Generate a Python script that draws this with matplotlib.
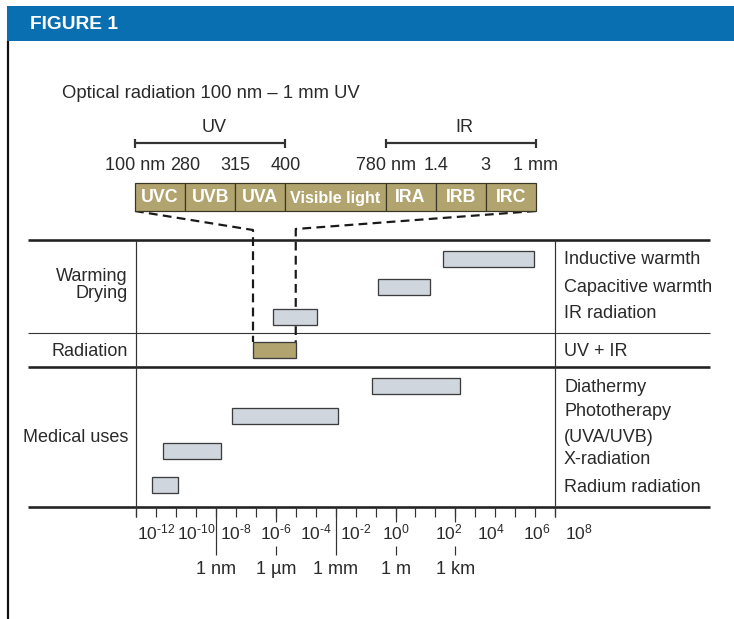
import matplotlib
matplotlib.use("Agg")
import matplotlib.pyplot as plt
from matplotlib.patches import Rectangle

W, H = 734, 619

# optical radiation band (equal-width schematic cells)
band_names = ["UVC", "UVB", "UVA", "Visible light", "IRA", "IRB", "IRC"]
band_widths = [1, 1, 1, 2, 1, 1, 1]
edge_labels = ["100 nm", "280", "315", "400", "780 nm", "1.4", "3", "1 mm"]

# application wavelength ranges in metres
use_lo = [240, 0.13, 7.2e-7, 7.2e-8, 0.066, 6.3e-9, 2.2e-12, 6.3e-13]
use_hi = [8.7e6, 54, 1.2e-4, 1.0e-5, 1.7e3, 1.3e-3, 1.8e-9, 1.26e-11]
use_radiation = [False, False, False, True, False, False, False, False]

right_labels = ["Inductive warmth", "Capacitive warmth", "IR radiation", "UV + IR",
                "Diathermy", "Phototherapy", "(UVA/UVB)", "X-radiation",
                "Radium radiation"]
group_labels = ["Warming\nDrying", "Radiation", "Medical uses"]

decades = list(range(-13, 9))
exp_labels = list(range(-12, 9, 2))
unit_vals = [1e-9, 1e-6, 1e-3, 1.0, 1e3]
unit_labels = ["1 nm", "1 µm", "1 mm", "1 m", "1 km"]

# ---- layout (pixels) ----
bar_rows = [259, 287, 317, 350, 386, 416, 451, 485]
right_rows = [260, 287, 314, 351, 388, 412, 438, 460, 487]
group_rows = [285, 351, 437]
exp_shift = [0, 0, 0, 0, 0, 0, 0, 13, 16, 22, 24]  # label drift in the original
unit_tick_gap = [False, True, False, True, True]  # long ticks broken by a label

plt.rcParams["font.family"] = ["Liberation Sans", "DejaVu Sans"]
plt.rcParams["mathtext.fontset"] = "custom"
plt.rcParams["mathtext.rm"] = "Liberation Sans"
plt.rcParams["mathtext.it"] = "Liberation Sans"

INK = "#2a2a2a"
TAN = "#b1a46f"
BLUE = "#0a6fb1"
BAR = "#cfd6dd"
PX = 0.72  # points per pixel at 100 dpi

fig = plt.figure(figsize=(W / 100, H / 100), dpi=100)

# pixel overlay for free text and rules
axp = fig.add_axes([0, 0, 1, 1])
axp.set_xlim(0, W)
axp.set_ylim(H, 0)
axp.axis("off")

# log wavelength axis: x_px = 395.5 + 19.95 * log10(m)
ax = fig.add_axes([0, 0, 1, 1], facecolor="none")
ax.set_xscale("log")
ax.set_xlim(10 ** (-395.5 / 19.95), 10 ** ((W - 395.5) / 19.95))
ax.set_ylim(H, 0)
ax.axis("off")

# band axis: one unit per narrow cell
axb = fig.add_axes([0, 0, 1, 1], facecolor="none")
axb.set_xlim(-135 / 50.1, (W - 135) / 50.1)
axb.set_ylim(H, 0)
axb.axis("off")

# header
axp.add_patch(Rectangle((7, 6), W - 7, 35, color=BLUE, lw=0))
axp.text(30, 24.5, "FIGURE 1", color="white", fontsize=13.8, fontweight="bold",
         va="center", ha="left")
axp.plot([8, 8], [41, H], color="#111111", lw=2.2 * PX, solid_capstyle="butt")

axp.text(62, 93, "Optical radiation 100 nm – 1 mm UV", fontsize=13.3, color=INK,
         va="center", ha="left")

# band cells
lefts = [sum(band_widths[:i]) for i in range(len(band_widths))]
axb.barh([197] * len(band_names), band_widths, left=lefts, height=28,
         color=TAN, edgecolor="#3a3626", lw=1.2 * PX, align="center")
for nm, l, w in zip(band_names, lefts, band_widths):
    axb.text(l + w / 2, 198, nm, color="white", fontsize=12.8 if w == 1 else 11.6,
             fontweight="bold", ha="center", va="center")
edges = lefts + [sum(band_widths)]
for e, lab in zip(edges, edge_labels):
    axb.text(e, 166, lab, fontsize=13, color=INK, ha="center", va="center")

# UV / IR brackets
for a, b, lab in [(0, 3, "UV"), (5, 8, "IR")]:
    axb.plot([a, b], [143, 143], color="#333333", lw=2.2 * PX, solid_capstyle="butt")
    axb.vlines([a, b], 138.5, 147.5, color="#333333", lw=2.2 * PX)
    axb.text((a + b) / 2 + 0.08, 127, lab, fontsize=13, color=INK, ha="center", va="center")

# table rules
axp.hlines([240, 367, 507], 28, 710, color="#222222", lw=2.6 * PX)
axp.hlines([333], 28, 710, color="#333333", lw=1.1 * PX)
ax.vlines([10.0 ** decades[0], 10.0 ** decades[-1]], 240, 517, color="#333333", lw=1.2 * PX)

# application bars
for y, lo, hi, rad in zip(bar_rows, use_lo, use_hi, use_radiation):
    ax.barh(y, hi - lo, left=lo, height=16, color=TAN if rad else BAR,
            edgecolor="#3c3c3c", lw=1.3 * PX)

# dashed connectors from the band to the radiation bar
ri = use_radiation.index(True)
def to_px(axx, pt):
    return axp.transData.inverted().transform(axx.transData.transform(pt))
bar_top = bar_rows[ri] - 8
for e, x_m, yk in [(edges[0], use_lo[ri], 230), (edges[-1], use_hi[ri], 229)]:
    p0 = to_px(axb, (e, 211))
    p1 = to_px(ax, (x_m, yk))
    p2 = to_px(ax, (x_m, bar_top))
    axp.plot([p0[0], p1[0], p2[0]], [p0[1], p1[1], p2[1]], color="#1a1a1a",
             lw=2.2 * PX, ls=(0, (4, 2.4)))

# labels at the sides
for lab, y in zip(right_labels, right_rows):
    axp.text(564, y, lab, fontsize=13, color=INK, ha="left", va="center")
for lab, y in zip(group_labels, group_rows):
    axp.text(128, y, lab, fontsize=13, color=INK, ha="right", va="center",
             linespacing=1.0)

# decade ticks
ax.vlines([10.0 ** d for d in decades], 507, 517, color="#333333", lw=1.2 * PX)
for u, gap in zip(unit_vals, unit_tick_gap):
    if gap:
        ax.vlines(u, 507, 522, color="#333333", lw=1.2 * PX)
        ax.vlines(u, 546, 555, color="#333333", lw=1.2 * PX)
    else:
        ax.vlines(u, 507, 555, color="#333333", lw=1.2 * PX)
for e, dx in zip(exp_labels, exp_shift):
    xp = to_px(ax, (10.0 ** e, 0))[0] + dx
    lab = r"$\mathregular{10^{" + str(e).replace("-", "\u2010") + "}}$"
    axp.text(xp, 532, lab, fontsize=12.5, color=INK, ha="center", va="center")
for u, lab in zip(unit_vals, unit_labels):
    ax.text(u, 570, lab, fontsize=13, color=INK, ha="center", va="center")

fig.savefig("out.png", dpi=100, facecolor="white")
